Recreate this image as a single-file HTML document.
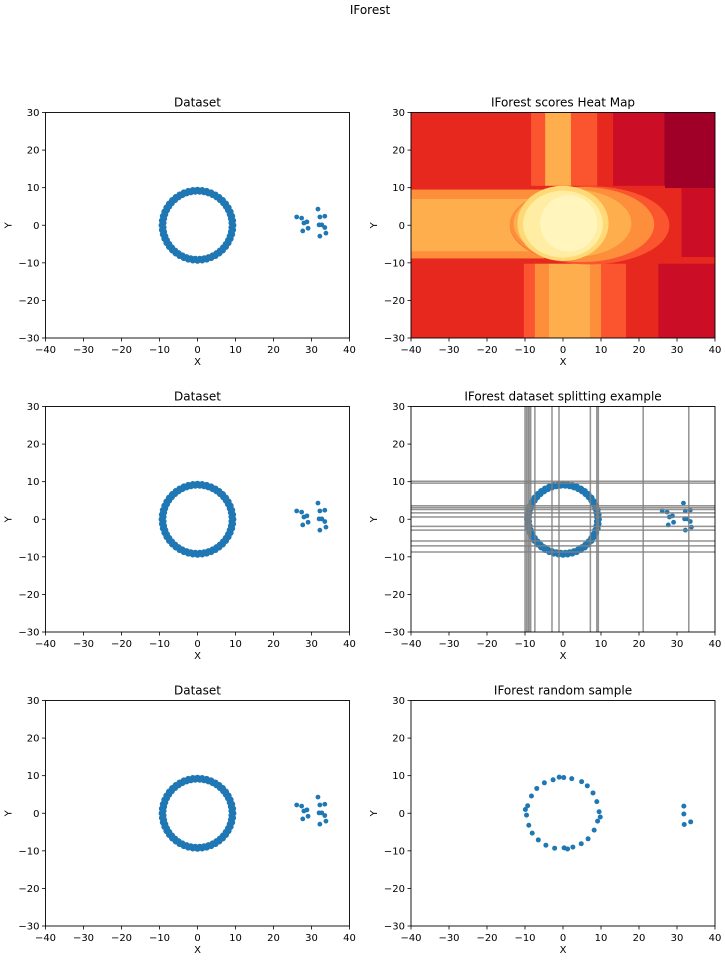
<!DOCTYPE html>
<html><head><meta charset="utf-8"><style>
html,body{margin:0;padding:0;background:#fff;}
svg{display:block;font-family:"DejaVu Sans","Liberation Sans",sans-serif;}
</style></head><body>
<svg id="fig" width="725" height="961" viewBox="0 0 725 961">
<text x="370" y="14" font-size="12" text-anchor="middle">IForest</text>
</svg>
<script>
// ===== data =====
const ringX = [9.4,9.32,9.08,8.68,8.14,7.46,6.65,5.72,4.7,3.6,2.43,1.23,
  0,-1.23,-2.43,-3.6,-4.7,-5.72,-6.65,-7.46,-8.14,-8.68,-9.08,-9.32,
  -9.4,-9.32,-9.08,-8.68,-8.14,-7.46,-6.65,-5.72,-4.7,-3.6,-2.43,-1.23,
  0,1.23,2.43,3.6,4.7,5.72,6.65,7.46,8.14,8.68,9.08,9.32];
const ringY = [0,1.23,2.43,3.6,4.7,5.72,6.65,7.46,8.14,8.68,9.08,9.32,
  9.4,9.32,9.08,8.68,8.14,7.46,6.65,5.72,4.7,3.6,2.43,1.23,
  0,-1.23,-2.43,-3.6,-4.7,-5.72,-6.65,-7.46,-8.14,-8.68,-9.08,-9.32,
  -9.4,-9.32,-9.08,-8.68,-8.14,-7.46,-6.65,-5.72,-4.7,-3.6,-2.43,-1.23];
const ring2X = [8.98,8.83,8.52,8.07,7.48,6.77,5.93,5.0,3.98,2.89,1.76,0.59,
  -0.59,-1.76,-2.89,-3.98,-5.0,-5.93,-6.77,-7.48,-8.07,-8.52,-8.83,-8.98,
  -8.98,-8.83,-8.52,-8.07,-7.48,-6.77,-5.93,-5.0,-3.98,-2.89,-1.76,-0.59,
  0.59,1.76,2.89,3.98,5.0,5.93,6.77,7.48,8.07,8.52,8.83,8.98];
const ring2Y = [0.59,1.76,2.89,3.98,5.0,5.93,6.77,7.48,8.07,8.52,8.83,8.98,
  8.98,8.83,8.52,8.07,7.48,6.77,5.93,5.0,3.98,2.89,1.76,0.59,
  -0.59,-1.76,-2.89,-3.98,-5.0,-5.93,-6.77,-7.48,-8.07,-8.52,-8.83,-8.98,
  -8.98,-8.83,-8.52,-8.07,-7.48,-6.77,-5.93,-5.0,-3.98,-2.89,-1.76,-0.59];
const outX = [26.1,27.4,28.0,28.8,29.1,27.7,31.7,32.2,33.5,32.0,32.7,33.5,33.8,32.2];
const outY = [2.2,1.9,0.6,0.9,-0.8,-1.5,4.3,2.2,2.4,0.1,0.1,-0.6,-2.1,-2.9];
const sampleX = [9.5,8.9,7.9,6.4,4.9,2.3,0.2,-2.6,-4.9,-6.9,-8.3,-9.3,-9.6,-9.0,-8.1,-6.5,-4.5,-2.2,0.3,2.6,4.8,6.6,8.2,9.1,9.8,-9.9,-1.0,1.2,31.8,31.8,31.9,33.6];
const sampleY = [0.4,3.1,5.4,7.3,8.4,9.2,9.5,8.9,8.1,6.6,4.6,2.0,-0.5,-3.2,-5.3,-7.1,-8.5,-9.3,-9.2,-9.0,-8.1,-6.8,-4.5,-2.1,-1.0,1.0,9.6,-9.5,1.9,-0.2,-3.0,-2.3];
const splitX = [-10,-9.6,-9.2,-8.9,-8.5,-7.4,-2.9,-1.05,7.2,8.9,9.3,21.1,33.1];
const splitY = [10.1,9.6,3.6,3.1,2.6,1.7,0.6,-1.9,-2.9,-5.8,-7.1,-8.7];
const tickVals = [-40,-30,-20,-10,0,10,20,30,40];
const yTickVals = [-30,-20,-10,0,10,20,30];
// heat map regions: [x0,x1,y0,y1,level]
const heatRects = [
 [-40,-8.4,10.5,30,2],[-8.4,-4.7,10.5,30,3],[-4.7,2.1,10.5,30,5],[2.1,9,10.5,30,3],[9,13.2,10.5,30,2],[13.2,26.7,10.5,30,1],[26.7,40,9.9,30,0],
 [-40,-10.3,-30,-10.1,2],[-10.3,-7.4,-30,-10.1,3],[-7.4,-3.7,-30,-10.1,4],[-3.7,7.1,-30,-10.1,5],[7.1,10,-30,-10.1,4],[10,16.6,-30,-10.1,3],[16.6,25.1,-30,-10.1,2],[25.1,40,-30,-10.1,1],
 [-40,26.7,-10.1,10.5,2],[26.7,40,-10.1,9.9,2],[31.2,40,-8.3,9.9,1],
 [-40,-5,-8.7,9.5,4],[-40,-5,-6.8,7.0,5]
];
// heat blobs: [cx,cy,rx,ry,level]
const heatBlobs = [[7,0,21,10.4,3],[5,0.2,19,10,4],[2.5,0.5,15.5,9,5],[0,0.5,12,10,6],[0,0.3,10.5,8.9,7],[1.5,0.5,7.5,7.5,8]];
const heatColors = ['#a00028','#cb0d25','#e7281f','#fb5530','#fd8e3c','#feae4c','#fed976','#ffeda4','#fff5bd'];

// ===== drawing =====
const NS='http://www.w3.org/2000/svg';
const svg=document.getElementById('fig');
function mk(tag,attrs,parent){const e=document.createElementNS(NS,tag);for(const k in attrs)e.setAttribute(k,attrs[k]);(parent||svg).appendChild(e);return e;}
const W=304, H=225.5;
function makeAxes(left,top,title,key){
  const g=mk('g',{});
  
  
  const sx=v=>left+(v+40)/80*W, sy=v=>top+(30-v)/60*H;
  const plot=mk('g',{},g);
  
  
  const cp='clip-'+key;
  const cl=mk('clipPath',{id:cp},g); mk('rect',{x:left,y:top,width:W,height:H},cl);
  plot.setAttribute('clip-path','url(#'+cp+')');
  const t=mk('text',{x:left+W/2,y:top-6,'font-size':12,'text-anchor':'middle'},g);t.textContent=title;
  
  
  return {g,plot,sx,sy,left,top,key};
}
function finishAxes(a){
  const {g,sx,sy,left,top,key}=a;
  mk('rect',{x:left,y:top,width:W,height:H,fill:'none',stroke:'#000','stroke-width':0.9},g);
  tickVals.forEach(v=>{
    mk('line',{x1:sx(v),x2:sx(v),y1:top+H,y2:top+H+3.5,stroke:'#000','stroke-width':0.8},g);
    const t=mk('text',{x:sx(v),y:top+H+15,'font-size':10,'text-anchor':'middle'},g);t.textContent=String(v).replace('-','\u2212');
    
    
  });
  yTickVals.forEach(v=>{
    mk('line',{x1:left-3.5,x2:left,y1:sy(v),y2:sy(v),stroke:'#000','stroke-width':0.8},g);
    const t=mk('text',{x:left-6,y:sy(v)+3.5,'font-size':10,'text-anchor':'end'},g);t.textContent=String(v).replace('-','\u2212');
    
    
  });
  const xl=mk('text',{x:left+W/2,y:top+H+27,'font-size':10,'text-anchor':'middle'},g);xl.textContent='X';
  
  
  const yx=left-34, yy=top+H/2;
  const yl=mk('text',{x:yx,y:yy,'font-size':10,'text-anchor':'middle',transform:'rotate(-90 '+yx+' '+yy+')'},g);yl.textContent='Y';
  
  
}
function scatter(a,xs,ys,r,name){
  xs.forEach((x,i)=>{
    const c=mk('circle',{cx:a.sx(x),cy:a.sy(ys[i]),r:r,fill:'#1f77b4'},a.plot);
    
    
  });
}
function fullData(a){
  scatter(a,ringX,ringY,3.2,'ring-point');
  scatter(a,ring2X,ring2Y,3.2,'ring-point');
  scatter(a,outX,outY,2.4,'outlier-point');
}
function datasetPanel(left,top,key){
  const a=makeAxes(left,top,'Dataset',key);
  fullData(a);
  finishAxes(a);
}
const lefts=[45.5,411], tops=[112.5,406.5,700.5];
datasetPanel(lefts[0],tops[0],'dataset-1');
datasetPanel(lefts[0],tops[1],'dataset-2');
datasetPanel(lefts[0],tops[2],'dataset-3');

// heat map
(function(){
  const a=makeAxes(lefts[1],tops[0],'IForest scores Heat Map','heatmap');
  heatRects.forEach(r=>{
    const e=mk('rect',{x:a.sx(r[0]),y:a.sy(r[3]),width:a.sx(r[1])-a.sx(r[0])+0.5,height:a.sy(r[2])-a.sy(r[3])+0.5,fill:heatColors[r[4]]},a.plot);
    
    
  });
  heatBlobs.forEach(b=>{
    const e=mk('ellipse',{cx:a.sx(b[0]),cy:a.sy(b[1]),rx:b[2]/80*W,ry:b[3]/60*H,fill:heatColors[b[4]]},a.plot);
    
    
  });
  finishAxes(a);
})();

// splitting
(function(){
  const a=makeAxes(lefts[1],tops[1],'IForest dataset splitting example','splitting');
  fullData(a);
  splitX.forEach(v=>{
    const l=mk('line',{x1:a.sx(v),x2:a.sx(v),y1:a.top,y2:a.top+H,stroke:'#808080','stroke-width':1.5,'stroke-opacity':0.85},a.plot);
    
    
  });
  splitY.forEach(v=>{
    const l=mk('line',{x1:a.left,x2:a.left+W,y1:a.sy(v),y2:a.sy(v),stroke:'#808080','stroke-width':1.5,'stroke-opacity':0.85},a.plot);
    
    
  });
  finishAxes(a);
})();

// random sample
(function(){
  const a=makeAxes(lefts[1],tops[2],'IForest random sample','sample');
  scatter(a,sampleX,sampleY,2.5,'sample-point');
  finishAxes(a);
})();
</script>
</body></html>
